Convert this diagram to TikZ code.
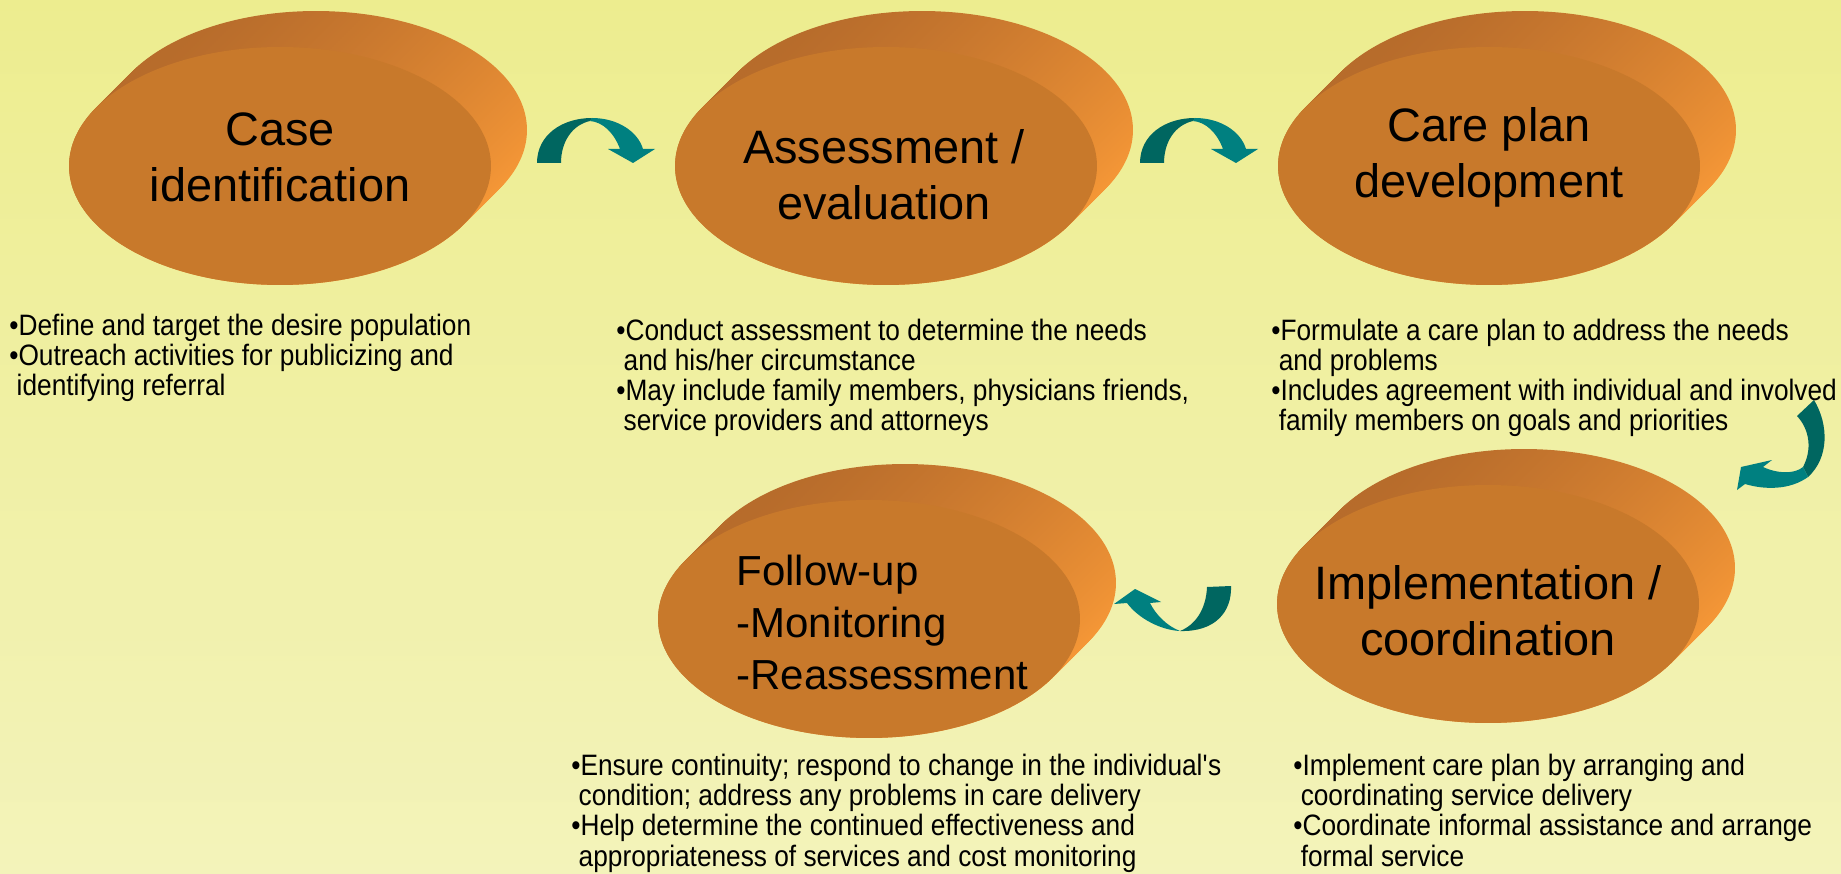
\documentclass[tikz,border=0pt]{standalone}
\usepackage{fontspec}
\setmainfont{Liberation Sans}
\newfontfamily\bodyfont[FakeStretch=0.89]{Liberation Sans}
\usetikzlibrary{shapes.geometric,positioning,calc}
\definecolor{bgtop}{RGB}{237,237,143}
\definecolor{bgbottom}{RGB}{243,243,186}
\definecolor{discface}{RGB}{200,121,43}
\definecolor{rimdark}{RGB}{182,107,43}
\definecolor{rimlight}{RGB}{248,153,55}
\definecolor{arrowdark}{RGB}{0,102,96}
\definecolor{arrowlight}{RGB}{0,128,128}
\tikzset{%
  disc face/.style={
    ellipse,
    fill=discface,
    minimum width=8.44cm,
    minimum height=4.76cm,
    inner sep=0pt
  },
  disc rim/.style={
    top color=rimdark,
    bottom color=rimlight,
    shading angle=30
  },
  title/.style={
    align=center,
    inner sep=0pt,
    font=\fontsize{26.7}{31.9}\selectfont
  },
  bullets/.style={
    align=left,
    anchor=base west,
    inner sep=0pt,
    font=\bodyfont\fontsize{16.8}{17.1}\selectfont
  },
}
\newcommand{\cont}{\hspace*{.25em}}

\begin{document}
\begin{tikzpicture}[x=0.02cm, y=-0.02cm]
        \useasboundingbox (0,0) rectangle (1841,874);
        \shade[top color=bgtop, bottom color=bgbottom] (0,0) rectangle (1841,874);

        % discs: side swept back to front, then the face
        \foreach \n/\cx/\cy in {case/280/166, assess/886/166, plan/1489/166, follow/869/619, impl/1488/604} {
            \foreach \t in {36,34,...,0}
                \shade[disc rim] (\cx+\t,\cy-\t) ellipse [x radius=4.22cm, y radius=2.38cm];
            \node [disc face] (\n) at (\cx,\cy) {};
        }

        \node [title] (case-t) at (280,157) {Case\\identification};
        \node [title] (assess-t) at (884,175) {Assessment /\\evaluation};
        \node [title] (plan-t) at (1489,157) {Care plan\\development};
        \node [title, align=left, anchor=west, font=\fontsize{23.9}{29.6}\selectfont] (follow-t) at (736,622) {Follow-up\\-Monitoring\\-Reassessment};
        \node [title] (impl-t) at (1488,611) {Implementation /\\coordination};

        % bent arrows
        \foreach \dx in {0,603} {
            \begin{scope}[xshift=\dx*0.02cm]
                \fill[arrowdark] (537,163) .. controls (537,135) and (562,118) .. (592,118) -- (590,121) .. controls (572,125) and (561,142) .. (561,163) -- cycle;
                \fill[arrowlight] (592,118) .. controls (618,118) and (638,132) .. (643,149) -- (655,149) -- (633,163) -- (608,149) -- (620,149) .. controls (614,133) and (603,122) .. (590,121) -- cycle;
            \end{scope}
        }
        \fill[arrowdark] (1814,400) .. controls (1829,425) and (1829,458) .. (1808,477) -- (1803,467) .. controls (1812,450) and (1810,430) .. (1797,416) -- cycle;
        \fill[arrowlight] (1808,477) .. controls (1790,490) and (1765,490) .. (1745,484) -- (1737,490) -- (1741,467) -- (1772,460) -- (1763,467) .. controls (1778,474) and (1795,474) .. (1803,467) -- cycle;
        \fill[arrowdark] (1207,587) -- (1231,586) .. controls (1232,612) and (1215,632) .. (1180,631) .. controls (1195,625) and (1206,610) .. (1207,587) -- cycle;
        \fill[arrowlight] (1180,631) .. controls (1160,630) and (1138,618) .. (1127,603) -- (1114,604) -- (1135,589) -- (1161,602) -- (1150,603) .. controls (1156,615) and (1167,626) .. (1180,631) -- cycle;

        % base west is the last line here
        \node [bullets] (case-x) at (9,396) {•Define and target the desire population\\•Outreach activities for publicizing and\\\cont identifying referral};
        \node [bullets] (assess-x) at (616,431) {•Conduct assessment to determine the needs\\\cont and his/her circumstance\\•May include family members, physicians friends,\\\cont service providers and attorneys};
        \node [bullets] (plan-x) at (1271,431) {•Formulate a care plan to address the needs\\\cont and problems\\•Includes agreement with individual and involved\\\cont family members on goals and priorities};
        \node [bullets] (follow-x) at (571,866) {•Ensure continuity; respond to change in the individual\textquotesingle s\\\cont condition; address any problems in care delivery\\•Help determine the continued effectiveness and\\\cont appropriateness of services and cost monitoring};
        \node [bullets] (impl-x) at (1293,866) {•Implement care plan by arranging and\\\cont coordinating service delivery\\•Coordinate informal assistance and arrange\\\cont formal service};
\end{tikzpicture}
\end{document}
